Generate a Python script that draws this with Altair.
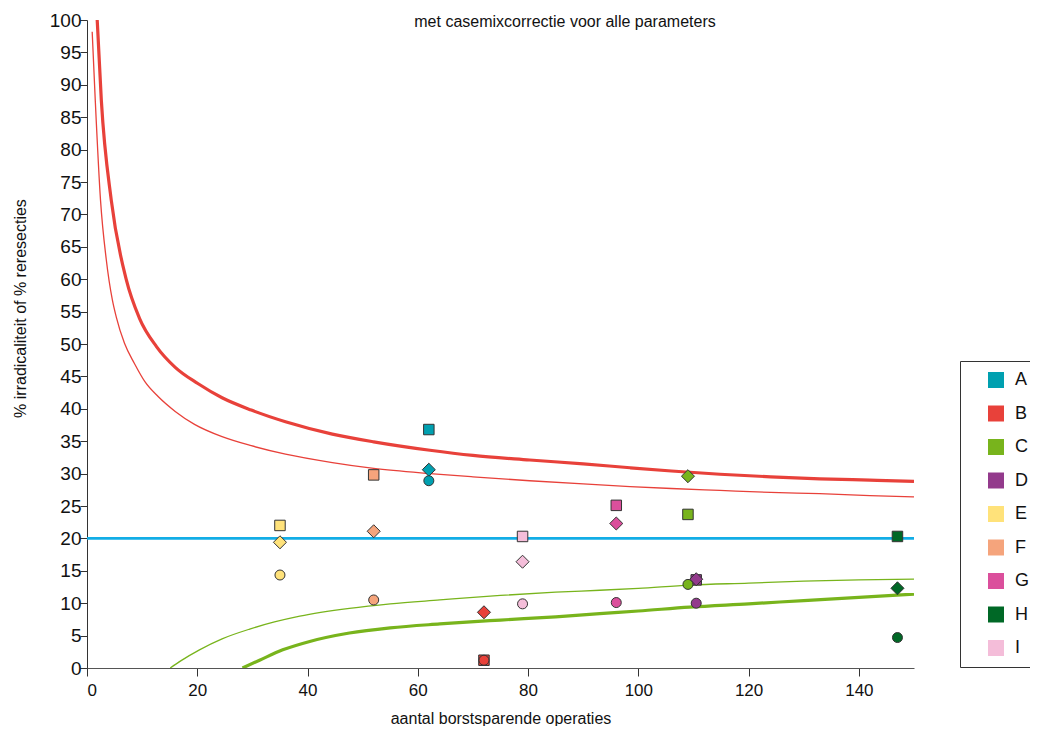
import altair as alt
import pandas as pd

FONT = "Liberation Sans, Arial, sans-serif"

# Hospitals and colours
hospitals = ["A", "B", "C", "D", "E", "F", "G", "H", "I"]
colors = ["#00a0b0", "#e8413a", "#78b41c", "#933a8c", "#ffe27a",
          "#f5a47c", "#db4f9c", "#006826", "#f4bdd9"]
# number of breast-conserving operations per hospital
n_ops = [62, 72, 109, 110.5, 35, 52, 96, 147, 79]
# three indicators per hospital (square, diamond, circle)
val_square = [36.8, 1.2, 23.7, 13.6, 22.0, 29.8, 25.1, 20.3, 20.3]
val_diamond = [30.6, 8.6, 29.6, 13.7, 19.4, 21.1, 22.3, 12.3, 16.4]
val_circle = [28.9, 1.2, 12.9, 10.0, 14.35, 10.5, 10.1, 4.7, 9.9]

# target line
target = 20
target_x = [0, 150]

# control limits
up_thick_x = [1.85, 2.6, 4.4, 7.1, 9.5, 12.6, 16, 20.1, 24.5, 29.8, 36, 44.5, 52, 62.2, 70, 80.3, 90, 98.5, 106, 114.8, 124, 132.9, 142, 150]
up_thick_y = [100, 87.6, 72.2, 60.0, 54.0, 49.6, 46.4, 43.9, 41.7, 39.8, 38.0, 36.1, 34.9, 33.6, 32.8, 32.1, 31.5, 30.9, 30.4, 29.9, 29.5, 29.2, 29.0, 28.8]
up_thin_x = [0.94, 1.5, 2.45, 3.5, 4.6, 5.3, 6.8, 8.6, 10.5, 12.9, 16, 19.5, 24.5, 29.8, 36, 44.5, 52, 62.2, 70, 80.3, 90, 98.5, 106, 114.8, 124, 132.9, 142, 150]
up_thin_y = [98.2, 87.6, 72.2, 63.0, 56.8, 54.2, 50.1, 47.0, 44.2, 41.9, 39.6, 37.6, 35.7, 34.3, 33.0, 31.7, 30.8, 30.0, 29.5, 28.9, 28.4, 28.0, 27.7, 27.4, 27.1, 26.9, 26.6, 26.4]
low_thick_x = [28.2, 31.3, 35.5, 40.4, 47.6, 55, 64, 75, 85, 93, 100, 109.3, 120, 130, 140, 150]
low_thick_y = [0, 1.2, 2.8, 4.1, 5.4, 6.2, 6.8, 7.4, 7.9, 8.4, 8.8, 9.4, 9.9, 10.4, 10.9, 11.4]
low_thin_x = [15.1, 17.0, 20.4, 24.5, 29.5, 34.0, 38.6, 47.6, 55, 64, 75, 85, 93, 100, 109.3, 120, 130, 140, 150]
low_thin_y = [0, 1.1, 2.8, 4.5, 6.0, 7.1, 8.0, 9.2, 9.9, 10.5, 11.2, 11.7, 12.0, 12.3, 12.8, 13.1, 13.4, 13.6, 13.7]

x_ticks = [0, 20, 40, 60, 80, 100, 120, 140]
y_ticks = list(range(0, 101, 5))

# ---------- tables ----------
rows = []
for ind, vals in (("square", val_square), ("diamond", val_diamond), ("circle", val_circle)):
    for h, n, v in zip(hospitals, n_ops, vals):
        rows.append({"hospital": h, "n": n, "value": v, "indicator": ind})
points = pd.DataFrame(rows)

xs = alt.Scale(domain=[0, 150], nice=False, zero=False)
ys = alt.Scale(domain=[0, 100], nice=False, zero=False)

x_axis = alt.Axis(values=x_ticks, title="aantal borstsparende operaties", grid=False,
                  domainColor="#555555", tickColor="#333333", tickSize=8, labelPadding=6,
                  labelFontSize=17, labelFont=FONT, labelColor="#111111", labelFontWeight="normal",
                  titleFont=FONT, titleFontSize=16, titleFontWeight="normal", titleColor="#111111",
                  titlePadding=12)
y_axis = alt.Axis(values=y_ticks, title="% irradicaliteit of % reresecties", grid=False,
                  domainColor="#333333", tickColor="#333333", tickSize=7, labelPadding=-1,
                  labelFontSize=19, labelFont=FONT, labelColor="#111111",
                  titleFont=FONT, titleFontSize=16, titleFontWeight="normal", titleColor="#111111",
                  titleX=-62, titleY=288, titleAngle=-90, titleAlign="center", titleBaseline="alphabetic")


def curve(xv, yv, color, width):
    df = pd.DataFrame({"x": xv, "y": yv})
    return alt.Chart(df).mark_line(color=color, strokeWidth=width, clip=True, interpolate="monotone").encode(
        x=alt.X("x:Q", scale=xs, axis=x_axis),
        y=alt.Y("y:Q", scale=ys, axis=y_axis),
    )


target_df = pd.DataFrame({"x": target_x, "y": [target] * len(target_x)})
target_line = alt.Chart(target_df).mark_line(color="#12ade6", strokeWidth=2.6).encode(
    x=alt.X("x:Q", scale=xs, axis=x_axis), y=alt.Y("y:Q", scale=ys, axis=y_axis))

color_enc = alt.Color("hospital:N", scale=alt.Scale(domain=hospitals, range=colors),
                      legend=alt.Legend(title=None, orient="none", legendX=873, legendY=341,
                                        symbolType="square", symbolSize=256, symbolStrokeWidth=0,
                                        symbolOpacity=1,
                                        labelFont=FONT, labelFontSize=18, labelColor="#111111",
                                        strokeColor="#333333", fillColor="white", padding=10,
                                        symbolOffset=17, labelOffset=10, rowPadding=15.5,
                                        labelLimit=60))


def pts(ind, shape, size):
    return alt.Chart(points).transform_filter(alt.datum.indicator == ind).mark_point(
        shape=shape, size=size, filled=True, opacity=1, stroke="#333333", strokeWidth=1).encode(
        x=alt.X("n:Q", scale=xs, axis=x_axis),
        y=alt.Y("value:Q", scale=ys, axis=y_axis),
        color=color_enc,
        tooltip=["hospital:N", "indicator:N", "n:Q", "value:Q"],
    )


title = alt.Chart(pd.DataFrame({"t": ["met casemixcorrectie voor alle parameters"]})).mark_text(
    font=FONT, fontSize=16, color="#111111", align="center", baseline="alphabetic").encode(
    text="t:N", x=alt.value(478), y=alt.value(7))

chart = alt.layer(
    target_line,
    curve(low_thin_x, low_thin_y, "#78b41c", 1.3),
    curve(low_thick_x, low_thick_y, "#78b41c", 3.2),
    curve(up_thin_x, up_thin_y, "#e8413a", 1.3),
    curve(up_thick_x, up_thick_y, "#e8413a", 3.2),
    pts("square", "square", 110),
    pts("diamond", "diamond", 170),
    pts("circle", "circle", 100),
    title,
).properties(
    width=827, height=648,
    autosize=alt.AutoSizeParams(type="none"),
    padding={"left": 79, "top": 12, "right": 116, "bottom": 58},
).configure_view(stroke=None)

chart.save("out.html", embed_options={"renderer": "svg", "actions": False})
